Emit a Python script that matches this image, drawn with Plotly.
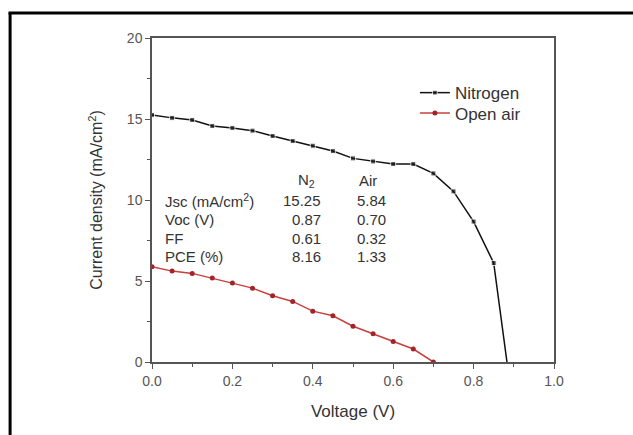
import plotly.graph_objects as go

voltage_n2 = [0.0, 0.05, 0.10, 0.15, 0.20, 0.25, 0.30, 0.35, 0.40, 0.45, 0.50, 0.55, 0.60, 0.65, 0.70, 0.75, 0.80, 0.85, 0.883]
current_n2 = [15.25, 15.07, 14.94, 14.57, 14.45, 14.28, 13.95, 13.64, 13.35, 13.02, 12.57, 12.38, 12.22, 12.22, 11.64, 10.53, 8.67, 6.11, 0.0]

voltage_air = [0.0, 0.05, 0.10, 0.15, 0.20, 0.25, 0.30, 0.35, 0.40, 0.45, 0.50, 0.55, 0.60, 0.65, 0.70]
current_air = [5.88, 5.61, 5.47, 5.18, 4.87, 4.56, 4.09, 3.74, 3.14, 2.85, 2.21, 1.75, 1.26, 0.80, 0.0]

param_labels = ["Jsc (mA/cm<sup>2</sup>)", "Voc (V)", "FF", "PCE (%)"]
n2_values = ["15.25", "0.87", "0.61", "8.16"]
air_values = ["5.84", "0.70", "0.32", "1.33"]
table_rows_y = [10.0, 8.81, 7.64, 6.5]

FONT = "Liberation Sans, Arial, sans-serif"
TXT = "#333333"
AX = "#555555"

fig = go.Figure()
fig.add_trace(go.Scatter(
    x=voltage_n2, y=current_n2, name="Nitrogen", mode="lines+markers", legend="legend",
    line=dict(color="#111111", width=1.5),
    marker=dict(symbol="square", size=[5] * (len(voltage_n2) - 1) + [0], color="#111111"),
))
fig.add_trace(go.Scatter(
    x=voltage_air, y=current_air, name="Open air", mode="lines+markers", legend="legend2",
    line=dict(color="#c8403c", width=1.5),
    marker=dict(symbol="circle", size=5, color="#a3232a"),
))

anns = []
anns.append(dict(x=0.385, y=11.23, xref="x", yref="y", text="N<sub>2</sub>", showarrow=False,
                 xanchor="center", yanchor="middle", font=dict(size=15, color=TXT, family=FONT)))
anns.append(dict(x=0.537, y=11.23, xref="x", yref="y", text="Air", showarrow=False,
                 xanchor="center", yanchor="middle", font=dict(size=15, color=TXT, family=FONT)))
for lab, n2, air, yy in zip(param_labels, n2_values, air_values, table_rows_y):
    anns.append(dict(x=0.028, y=yy, xref="x", yref="y", text=lab, showarrow=False,
                     xanchor="left", yanchor="middle", font=dict(size=15, color=TXT, family=FONT)))
    anns.append(dict(x=0.425, y=yy, xref="x", yref="y", text=n2, showarrow=False,
                     xanchor="right", yanchor="middle", font=dict(size=15, color=TXT, family=FONT)))
    anns.append(dict(x=0.505, y=yy, xref="x", yref="y", text=air, showarrow=False,
                     xanchor="left", yanchor="middle", font=dict(size=15, color=TXT, family=FONT)))

axis_common = dict(
    showline=True, linecolor=AX, linewidth=1.5, mirror=True, showgrid=False, zeroline=False,
    ticks="outside", ticklen=5, tickwidth=1.2, tickcolor=AX,
    tickfont=dict(size=14, color="#555555", family=FONT),
)

legend_common = dict(xanchor="left", yanchor="middle", bgcolor="rgba(0,0,0,0)",
                     font=dict(size=17, color=TXT, family=FONT))

fig.update_layout(
    width=633, height=435,
    margin=dict(l=152, r=79, t=38, b=73),
    paper_bgcolor="white", plot_bgcolor="white",
    font=dict(family=FONT, color=TXT),
    showlegend=True,
    legend=dict(x=0.654, y=0.830, **legend_common),
    legend2=dict(x=0.654, y=0.767, **legend_common),
    xaxis=dict(range=[0, 1.0], dtick=0.2, tickformat=".1f",
               minor=dict(dtick=0.1, ticks="outside", ticklen=3, tickcolor=AX),
               title=dict(text="Voltage (V)", font=dict(size=17, color=TXT, family=FONT), standoff=18),
               **axis_common),
    yaxis=dict(range=[0, 20], dtick=5,
               minor=dict(dtick=2.5, ticks="outside", ticklen=3, tickcolor=AX),
               title=dict(text="Current density (mA/cm<sup>2</sup>)", font=dict(size=16, color=TXT, family=FONT), standoff=20),
               **axis_common),
    annotations=anns,
    shapes=[
        dict(type="line", xref="paper", yref="paper", x0=-0.353, x1=-0.353, y0=1.077, y1=-0.3,
             line=dict(color="black", width=3)),
        dict(type="line", xref="paper", yref="paper", x0=-0.357, x1=1.3, y0=1.077, y1=1.077,
             line=dict(color="black", width=3)),
    ],
)

fig.write_html("out.html")
